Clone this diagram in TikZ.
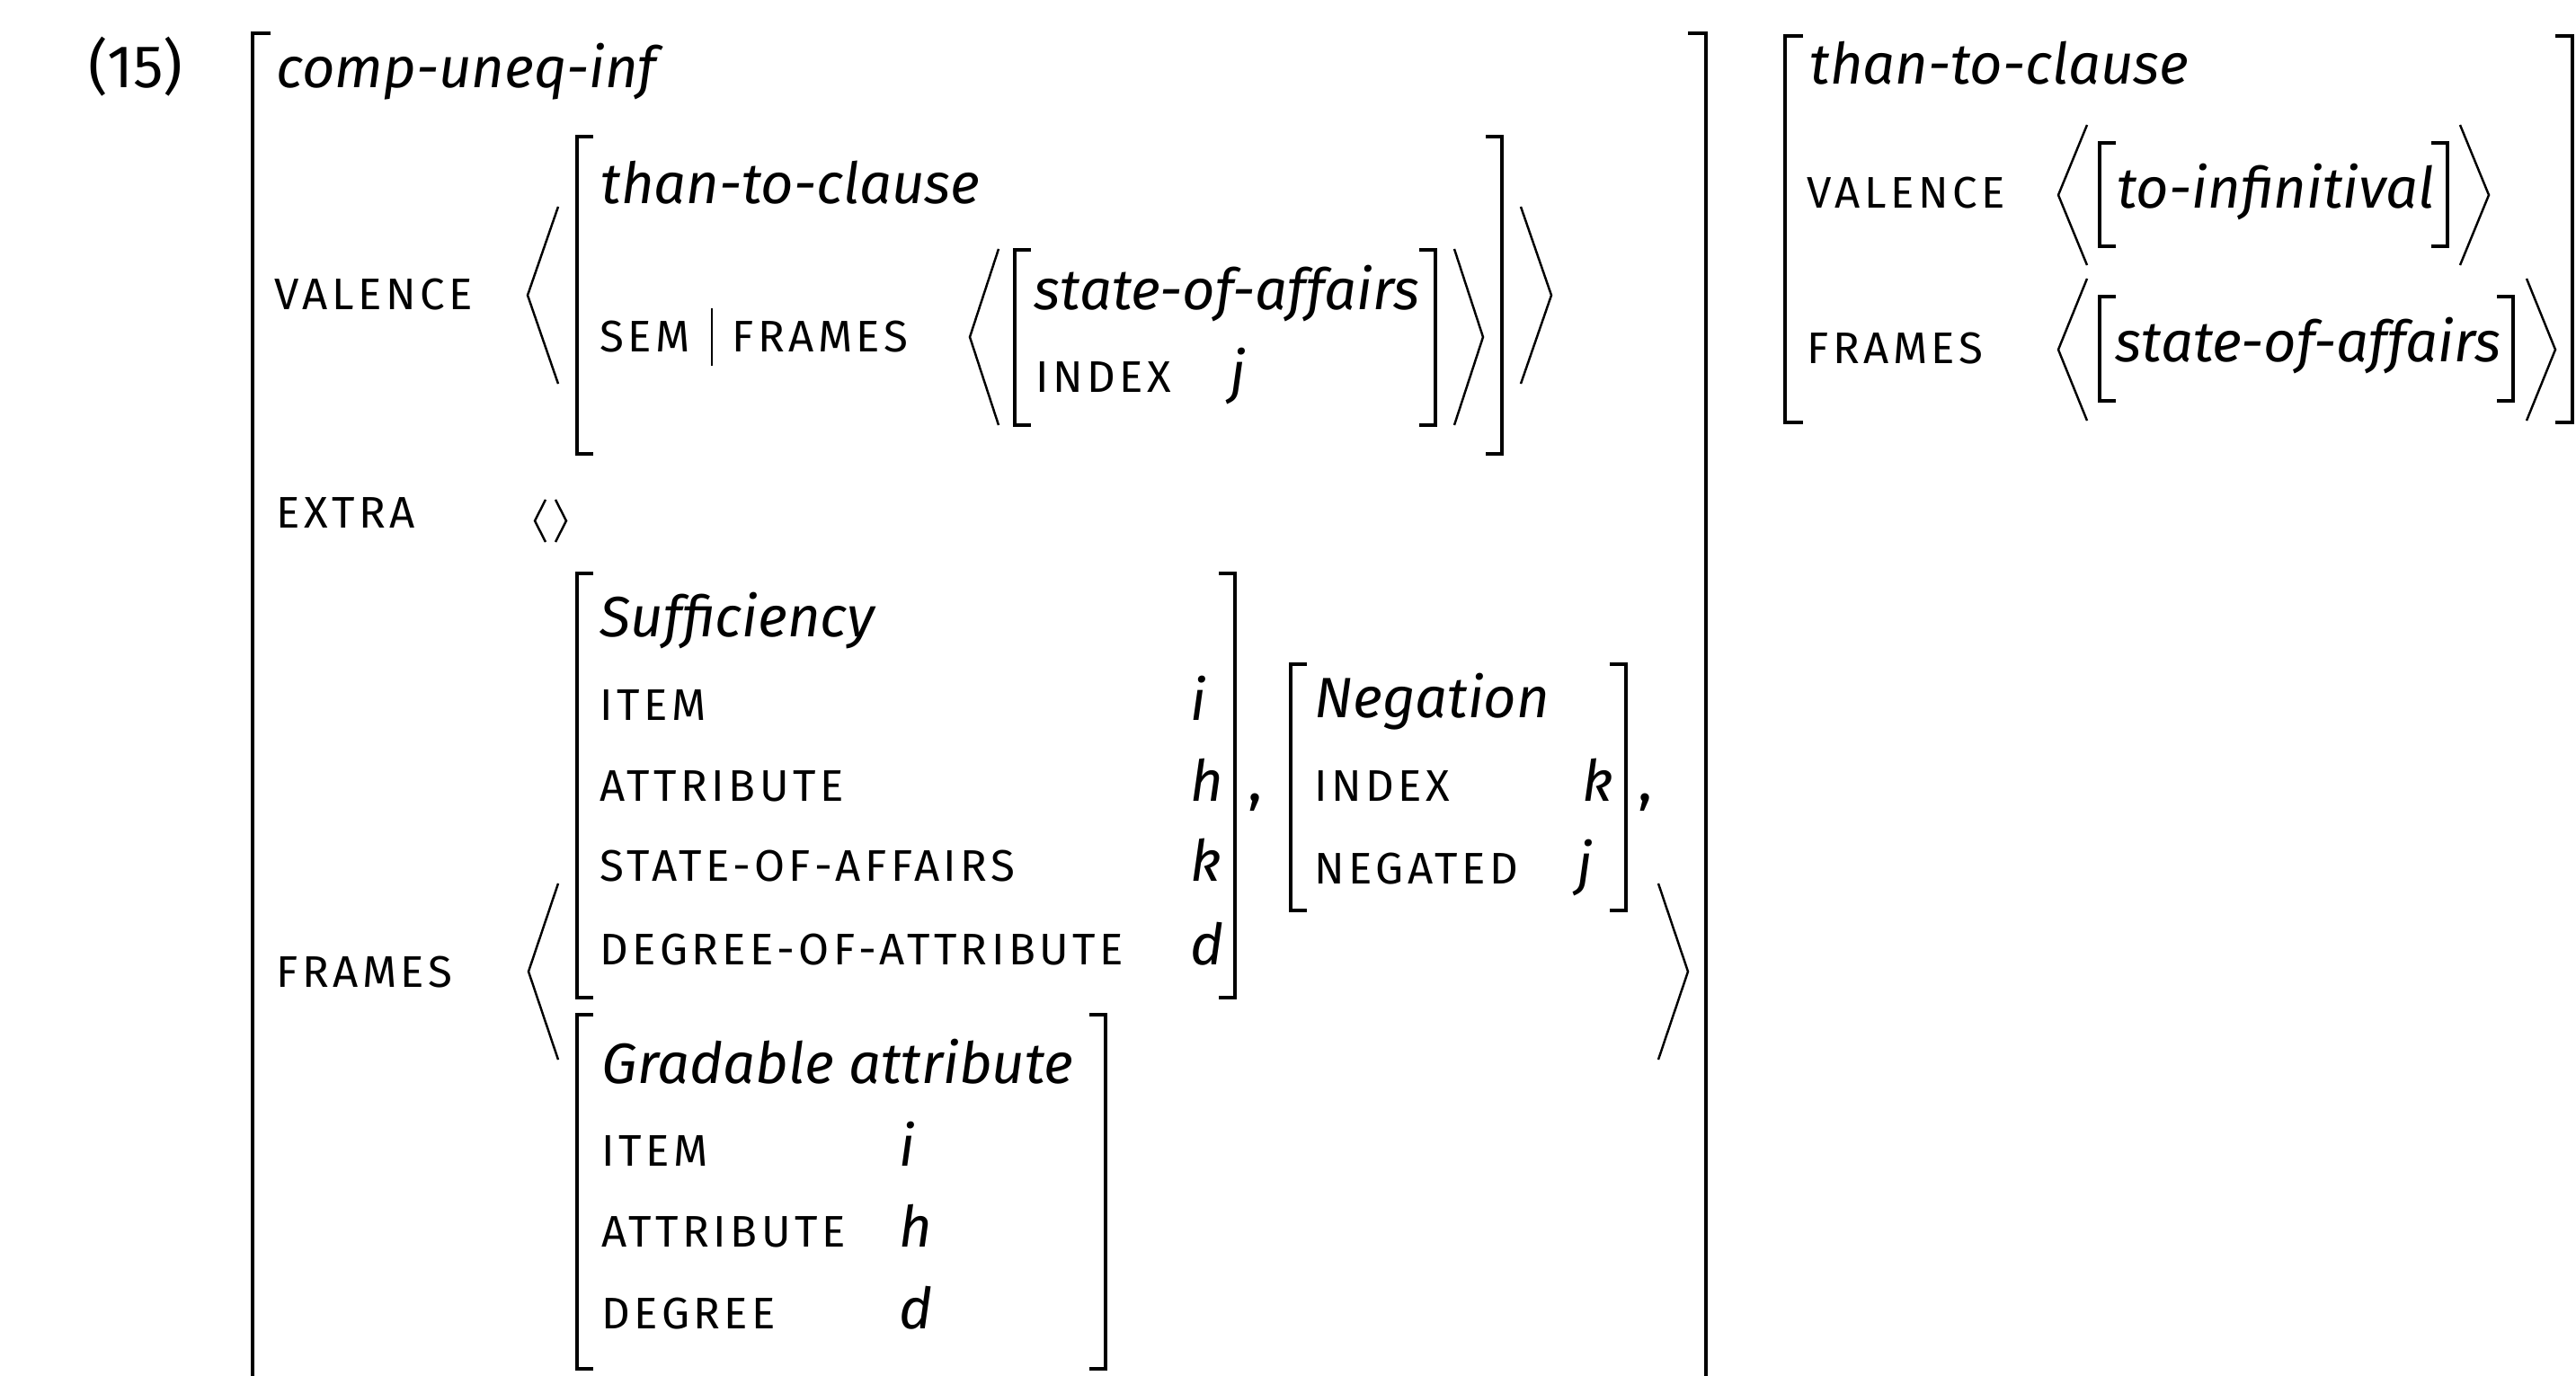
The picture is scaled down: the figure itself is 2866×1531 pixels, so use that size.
\documentclass[tikz,border=0pt]{standalone}
\usepackage{fontspec}
\setmainfont{Fira Sans}
\newfontfamily\featfont{Fira Sans}[LetterSpace=9]

\begin{document}
\begin{tikzpicture}[x=0.01cm,y=-0.01cm,every node/.style={inner sep=0pt,anchor=base west},base/.style={font=\fontsize{19}{23}\selectfont},typ/.style={font=\fontsize{18}{22}\selectfont\itshape},feat/.style={font=\featfont\fontsize{14}{17}\selectfont},brk/.style={line width=1.2pt},ang/.style={line width=0.7pt}]
\useasboundingbox (0,0) rectangle (2866,1531);
% example number and outer matrix
\node[base] (num) at (98,98) {(15)};
\draw[brk] (301,37) -- (281,37) -- (281,1531);
\draw[brk] (1878,37) -- (1898,37) -- (1898,1531);
\node[typ] (cui) at (307,98) {comp-uneq-inf};
% valence
\node[feat] (val) at (305,345) {VALENCE};
\node[typ] (ttc) at (668,227) {than-to-clause};
\node[feat] (sem) at (667,392) {SEM};
\draw[line width=0.45pt] (792,343) -- (792,407);
\node[feat] (semfr) at (814,392) {FRAMES};
\node[typ] (soa) at (1150,345) {state-of-affairs};
\node[feat] (idx) at (1152,437) {INDEX};
\node[typ] (jv) at (1368,437) {j};
% extra
\node[feat] (extra) at (307,588) {EXTRA};
% frames
\node[feat] (fr) at (307,1098) {FRAMES};
\node[typ] (suff) at (667,709) {Sufficiency};
\foreach \f/\v/\y in {ITEM/i/801,ATTRIBUTE/h/891,STATE-OF-AFFAIRS/k/981,DEGREE-OF-ATTRIBUTE/d/1073}{
  \node[feat] (s-\v) at (667,\y) {\f};
  \node[typ] (sv-\v) at (1324,\y) {\v};
}
\node[base] (c1) at (1388,891) {,};
\node[typ] (neg) at (1462,799) {Negation};
\node[feat] (nidx) at (1462,891) {INDEX};
\node[typ] (nk) at (1760,891) {k};
\node[feat] (nneg) at (1462,983) {NEGATED};
\node[typ] (nj) at (1754,983) {j};
\node[base] (c2) at (1822,891) {,};
\node[typ] (grad) at (669,1205) {Gradable attribute};
\foreach \f/\v/\y in {ITEM/i/1297,ATTRIBUTE/h/1387,DEGREE/d/1478}{
  \node[feat] (g-\v) at (669,\y) {\f};
  \node[typ] (gv-\v) at (1000,\y) {\v};
}
% right matrix
\node[typ] (ttc2) at (2013,94) {than-to-clause};
\node[feat] (val2) at (2010,232) {VALENCE};
\node[typ] (toinf) at (2355,232) {to-infinitival};
\node[feat] (fr2) at (2010,405) {FRAMES};
\node[typ] (soa2) at (2353,403) {state-of-affairs};
\draw[brk] (2006,40) -- (1986,40) -- (1986,470) -- (2006,470);
\draw[brk] (2843,40) -- (2862,40) -- (2862,470) -- (2843,470);
% brackets: x of left bar / x of right bar / top / bottom
\foreach \l/\r/\t/\b in {642/1671/152/505,1129/1597/278/473,642/1374/638/1110,1436/1809/739/1013,642/1230/1129/1523,2336/2723/159/274,2336/2796/330/446}{
  \draw[brk] (\l+18,\t) -- (\l,\t) -- (\l,\b) -- (\l+18,\b);
  \draw[brk] (\r-18,\t) -- (\r,\t) -- (\r,\b) -- (\r-18,\b);
}
% angles: tip of left / tip of right / width / top / bottom
\foreach \l/\r/\w/\t/\b in {587/1726/34/230/427,1079/1650/32/277/473,588/1878/33/983/1179,2290/2769/32/139/295,2290/2843/32/310/468,595/630/12/556/603}{
  \draw[ang] (\l+\w,\t) -- (\l,{(\t+\b)/2}) -- (\l+\w,\b);
  \draw[ang] (\r-\w,\t) -- (\r,{(\t+\b)/2}) -- (\r-\w,\b);
}
\end{tikzpicture}
\end{document}
